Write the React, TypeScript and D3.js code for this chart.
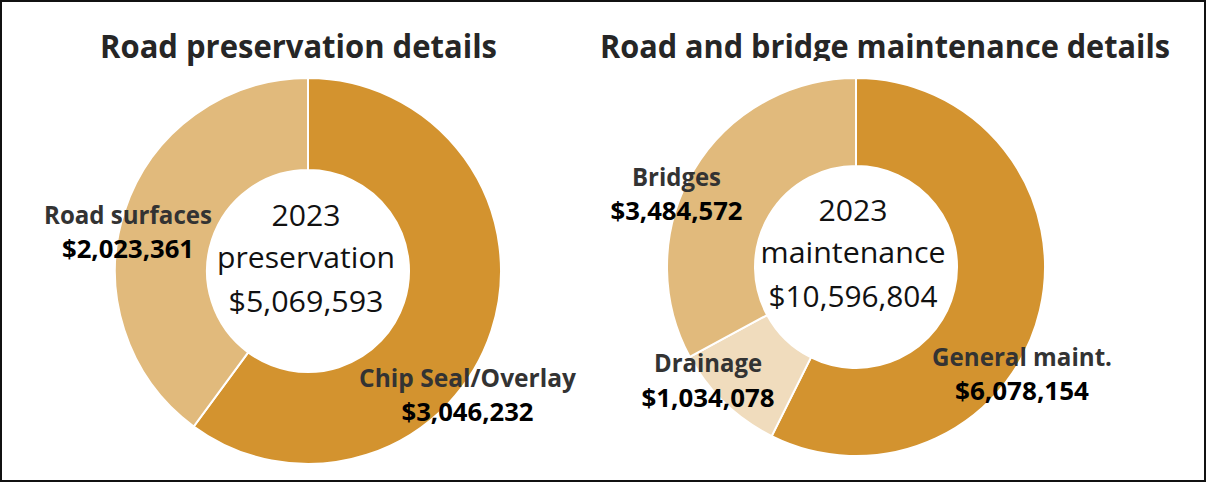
import React from 'react';
import * as d3 from 'd3';

// data
const preservationCategories = ['Chip Seal/Overlay', 'Road surfaces'];
const preservationValues = [3046232, 2023361];
const maintenanceCategories = ['General maint.', 'Drainage', 'Bridges'];
const maintenanceValues = [6078154, 1034078, 3484572];
const chartTitles = ['Road preservation details', 'Road and bridge maintenance details'];
const centerWords = ['preservation', 'maintenance'];
const yearLabel = '2023';

const W = 1207;
const H = 483;
const fmt = d3.format('$,');

const titleFont = "'Open Sans', 'DejaVu Sans', sans-serif";
const labelFont = "'Open Sans', 'DejaVu Sans', sans-serif";

// layout only (no values in here)
const donuts = [
  {
    cx: 308, cy: 271, rOuter: 193, rInner: 101,
    colors: ['#D3932F', '#E1BA7C'],
    title: { x: 298.5, y: 58, len: 397 },
    center: [ { y: 226, len: 69 }, { y: 268, len: 178 }, { y: 312, len: 155 } ],
    centerX: 306,
    labels: [
      { x: 467.5, y: 387, nameLen: 217, valY: 421, valLen: 132 },
      { x: 128, y: 224, nameLen: 168, valY: 258, valLen: 132 },
    ],
  },
  {
    cx: 856, cy: 267, rOuter: 189, rInner: 101,
    colors: ['#D3932F', '#F0DCBD', '#E1BA7C'],
    title: { x: 885, y: 58, len: 570 },
    center: [ { y: 221, len: 69 }, { y: 263, len: 185 }, { y: 307, len: 169 } ],
    centerX: 853,
    labels: [
      { x: 1022, y: 366, nameLen: 180, valY: 400, valLen: 134 },
      { x: 708, y: 372, nameLen: 108, valY: 407, valLen: 133 },
      { x: 676.5, y: 186, nameLen: 89, valY: 220, valLen: 132 },
    ],
  },
];

const Donut = ({ idx, categories, values }) => {
  const L = donuts[idx];
  const pie = d3.pie().sort(null).value((d) => d);
  const arc = d3.arc().innerRadius(L.rInner).outerRadius(L.rOuter);
  const arcs = pie(values);
  const total = d3.sum(values);
  const centerLines = [yearLabel, centerWords[idx], fmt(total)];

  return (
    <g>
      <g transform={`translate(${L.cx},${L.cy})`}>
        {arcs.map((a, i) => (
          <path key={i} d={arc(a)} fill={L.colors[i]} stroke="#fff" strokeWidth={2} />
        ))}
      </g>
      {centerLines.map((t, i) => (
        <text key={'c' + i} x={L.centerX} y={L.center[i].y} textAnchor="middle"
          fontFamily={labelFont} fontSize={30} fill="#111"
          textLength={L.center[i].len} lengthAdjust="spacingAndGlyphs">{t}</text>
      ))}
      {categories.map((c, i) => {
        const p = L.labels[i];
        return (
          <g key={'l' + i}>
            <text x={p.x} y={p.y} textAnchor="middle" fontFamily={labelFont} fontWeight="bold"
              fontSize={25} fill="#333" textLength={p.nameLen} lengthAdjust="spacingAndGlyphs">{c}</text>
            <text x={p.x} y={p.valY} textAnchor="middle" fontFamily={labelFont} fontWeight="bold"
              fontSize={25} fill="#000" textLength={p.valLen} lengthAdjust="spacingAndGlyphs">{fmt(values[i])}</text>
          </g>
        );
      })}
    </g>
  );
};

export default function App() {
  return (
    <svg width={W} height={H} style={{ position: 'absolute', left: 0, top: 0, background: '#fff' }}>
      <defs>
        <clipPath id="titleClip">
          <rect x={0} y={0} width={W} height={61} />
        </clipPath>
      </defs>
      <rect x={0} y={0} width={W} height={H} fill="#fff" />
      {chartTitles.map((t, i) => (
        <text key={i} x={donuts[i].title.x} y={donuts[i].title.y} textAnchor="middle"
          fontFamily={titleFont} fontWeight="bold" fontSize={32.5} fill="#262626"
          clipPath={i === 1 ? 'url(#titleClip)' : undefined}
          textLength={donuts[i].title.len} lengthAdjust="spacingAndGlyphs">{t}</text>
      ))}
      <Donut idx={0} categories={preservationCategories} values={preservationValues} />
      <Donut idx={1} categories={maintenanceCategories} values={maintenanceValues} />
      <rect x={1} y={1} width={W - 3} height={H - 3} fill="none" stroke="#111" strokeWidth={2} />
    </svg>
  );
}
